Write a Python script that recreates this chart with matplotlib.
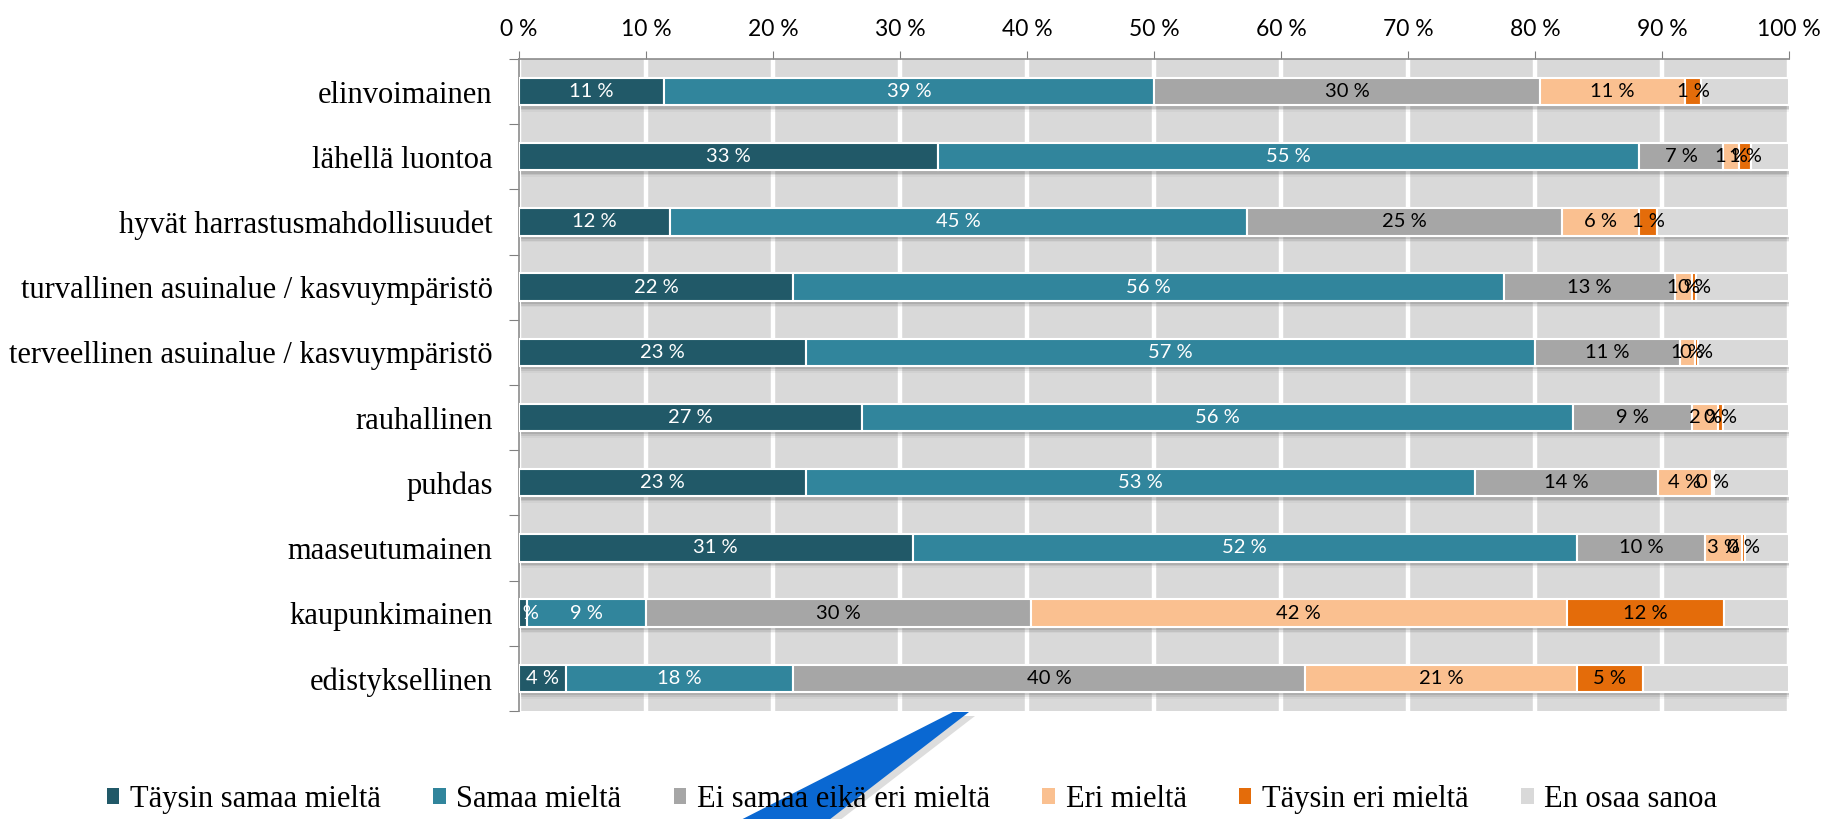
import numpy as np
import matplotlib.pyplot as plt
from matplotlib.patches import Polygon, Patch

# survey data (percent of answers), top to bottom as in the chart
categories = ['elinvoimainen', 'lähellä luontoa', 'hyvät harrastusmahdollisuudet',
              'turvallinen asuinalue / kasvuympäristö', 'terveellinen asuinalue / kasvuympäristö',
              'rauhallinen', 'puhdas', 'maaseutumainen', 'kaupunkimainen', 'edistyksellinen']
taysin_samaa = [11.4, 33.0, 11.9, 21.6, 22.6, 27.0, 22.6, 31.0, 0.6, 3.7]
samaa = [38.6, 55.2, 45.4, 56.0, 57.4, 56.0, 52.7, 52.3, 9.4, 17.9]
ei_samaa_eika_eri = [30.4, 6.6, 24.8, 13.4, 11.4, 9.4, 14.4, 10.1, 30.3, 40.3]
eri = [11.4, 1.3, 6.1, 1.4, 1.2, 2.0, 4.2, 2.9, 42.2, 21.4]
taysin_eri = [1.3, 0.9, 1.4, 0.3, 0.2, 0.4, 0.2, 0.2, 12.4, 5.2]
series_names = ['Täysin samaa mieltä', 'Samaa mieltä', 'Ei samaa eikä eri mieltä',
                'Eri mieltä', 'Täysin eri mieltä', 'En osaa sanoa']
colors = ['#215968', '#31859C', '#A6A6A6', '#FAC090', '#E46C0A', '#D9D9D9']
label_colors = ['white', 'white', 'black', 'black', 'black', None]

known = np.array([taysin_samaa, samaa, ei_samaa_eika_eri, eri, taysin_eri])
en_osaa = 100 - known.sum(axis=0)
data = np.vstack([known, en_osaa])

serif = ['Liberation Serif', 'DejaVu Serif']
sans = ['Lato', 'DejaVu Sans']

fig = plt.figure(figsize=(18.24, 8.19), dpi=100)
ax = fig.add_axes([0.2845, 0.132, 0.6963, 0.796])
ax.set_facecolor('#D9D9D9')

y = np.arange(len(categories))
h = 0.42

# soft shadow under each bar
for k, a in enumerate([0.18, 0.12, 0.06]):
    ax.barh(y + 0.05 + k * 0.025, 100, left=0.15, height=h, color='#555555',
            alpha=a, linewidth=0, zorder=2)

left = np.zeros(len(categories))
for i in range(len(series_names)):
    vals = data[i]
    ax.barh(y, vals, left=left, height=h, color=colors[i], edgecolor='white',
            linewidth=1.5, zorder=3)
    if label_colors[i] is not None:
        for j, v in enumerate(vals):
            ax.text(left[j] + v / 2, y[j], f'{round(v):.0f} %', ha='center', va='center',
                    color=label_colors[i], fontsize=14.5, family=sans, zorder=4,
                    clip_on=True)
    left += vals

ax.set_xlim(0, 100)
ax.set_ylim(len(categories) - 0.5, -0.5)

ax.xaxis.tick_top()
ax.set_xticks(np.arange(0, 101, 10))
ax.set_xticklabels([f'{t} %' for t in range(0, 101, 10)], family=sans, fontsize=16.5)
ax.tick_params(axis='x', length=6, color='#808080', pad=8)
ax.grid(axis='x', color='white', linewidth=3.2, zorder=1)
ax.set_axisbelow(True)

ax.set_yticks(np.arange(-0.5, len(categories), 1))
ax.set_yticklabels([])
ax.set_yticks(y, minor=True)
ax.set_yticklabels(categories, minor=True, family=serif, fontsize=22)
ax.tick_params(axis='y', which='major', length=7, color='#808080')
ax.tick_params(axis='y', which='minor', length=0, pad=19)

for s in ['right', 'bottom']:
    ax.spines[s].set_visible(False)
for s in ['top', 'left']:
    ax.spines[s].set_color('#8C8C8C')
    ax.spines[s].set_linewidth(1.2)

# legend
handles = [Patch(facecolor=c, edgecolor='none') for c in colors]
fig.legend(handles, series_names, loc='center', bbox_to_anchor=(0.5, 0.024), ncol=6,
           frameon=False, prop={'family': serif, 'size': 22}, handlelength=0.42,
           handleheight=0.42, handletextpad=0.35, columnspacing=1.7)

# blue callout wedge overlay (pixel coords from top-left)
W, H = 1824, 819
wedge = [(953, 712), (969, 712), (816, 830), (721, 830)]
shadow = Polygon([(x + 6, H - yy - 4) for x, yy in wedge], closed=True,
                 transform=None, facecolor='#8f8f8f', alpha=0.3, edgecolor='none', zorder=0)
blue = Polygon([(x, H - yy) for x, yy in wedge], closed=True, transform=None,
               facecolor='#0A68D2', edgecolor='none', zorder=0.5)
fig.patches.extend([shadow, blue])

fig.savefig('out.png', dpi=100)
